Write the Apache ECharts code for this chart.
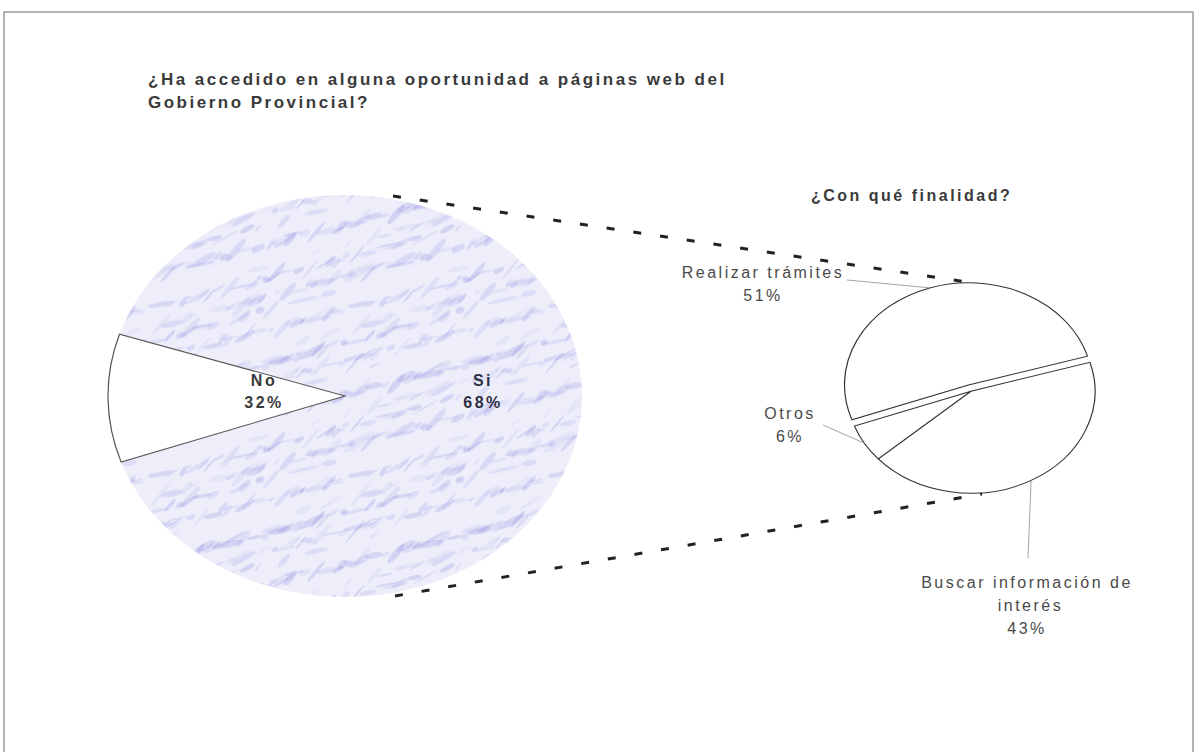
<!DOCTYPE html>
<html>
<head>
<meta charset="utf-8">
<script src="https://cdn.jsdelivr.net/npm/echarts@6/dist/echarts.min.js"></script>
<style>
html,body{margin:0;padding:0;background:#fff;}
#chart{width:1197px;height:752px;}
#chart svg text{letter-spacing:2.5px;}
</style>
</head>
<body>
<div id="chart"></div>
<script>
// ---------------- data ----------------
const titleMain = '¿Ha accedido en alguna oportunidad a páginas web del\nGobierno Provincial?';
const titleSub = '¿Con qué finalidad?';
const mainNames = ['No', 'Si'];
const mainPercent = [32, 68];            // printed percentages
const mainDrawnShare = [10.3, 89.7];     // share of the left pie each slice covers in the picture
const subNames = ['Realizar trámites', 'Buscar información de interés', 'Otros'];
const subPercent = [51, 43, 6];

// ---------------- layout ----------------
const MAIN = { cx: 345, cy: 396, rx: 237, ry: 201, startAngle: 199.2 };
const SUB = { cx: 971, cy: 391, rx: 124, ry: 102, startAngle: 200, explode: [8, 0, 0] };
const mainLabelPos = [[264, 391], [483, 391]];
const subLabelPos = [
  { x: 763, y: 284, lx: 847, ly: 280 },
  { x: 1027, y: 605, lx: 1028, ly: 558 },
  { x: 790, y: 425, lx: 823, ly: 425 }
];
const connectors = [[[393, 196], [980, 284]], [[395, 596], [982, 494]]];
const FONT = '"Liberation Sans", Arial, sans-serif';

function sliceAngles(values, startDeg) {
  const total = values.reduce((a, b) => a + b, 0);
  let a = startDeg;
  return values.map(v => { const s = a; a -= v / total * 360; return [s, a]; });
}
const mainAngles = sliceAngles(mainDrawnShare, MAIN.startAngle);
const subAngles = sliceAngles(subPercent, SUB.startAngle);

// decorative marbled fill (deterministic pattern, not data)
function makeTexture() {
  const S = 200;
  const c = document.createElement('canvas');
  c.width = S; c.height = S;
  const g = c.getContext('2d');
  g.fillStyle = '#eeeefa';
  g.fillRect(0, 0, S, S);
  for (let i = 0; i < 170; i++) {
    const x = (i * 47 + (i % 7) * 9) % S, y = (i * 71 + (i % 5) * 13) % S;
    const len = 4 + (i * 7) % 13, w = 1.2 + (i * 3) % 4 * 0.8;
    const alpha = 0.10 + ((i * 11) % 7) * 0.03;
    g.fillStyle = 'rgba(145,145,228,' + alpha.toFixed(3) + ')';
    for (const dx of [-S, 0, S]) for (const dy of [-S, 0, S]) {
      g.save();
      g.translate(x + dx, y + dy);
      g.rotate(-0.6 + ((i % 3) - 1) * 0.35);
      g.beginPath();
      g.ellipse(0, 0, len, w, 0, 0, Math.PI * 2);
      g.fill();
      g.restore();
    }
  }
  return c;
}
const texture = { image: makeTexture(), repeat: 'repeat' };

function ellipsePoint(P, deg) {
  const r = deg * Math.PI / 180;
  return [P.cx + Math.cos(r) * P.rx, P.cy - Math.sin(r) * P.ry];
}

function renderMain(params, api) {
  const i = params.dataIndex;
  const [a0, a1] = mainAngles[i];
  const k = MAIN.ry / MAIN.rx;
  const isNo = i === 0;
  return {
    type: 'group',
    children: [
      {
        type: 'sector',
        shape: { cx: MAIN.cx, cy: MAIN.cy, r: MAIN.rx, r0: 0,
          startAngle: -a0 * Math.PI / 180, endAngle: -a1 * Math.PI / 180, clockwise: true },
        scaleY: k, originX: MAIN.cx, originY: MAIN.cy,
        style: isNo
          ? { fill: '#ffffff', stroke: '#555555', lineWidth: 1.2, strokeNoScale: true }
          : { fill: texture, stroke: null },
        z2: isNo ? 2 : 1
      },
      {
        type: 'text',
        z2: 5,
        style: {
          text: mainNames[i] + '\n' + mainPercent[i] + '%',
          x: mainLabelPos[i][0], y: mainLabelPos[i][1],
          align: 'center', verticalAlign: 'middle', lineHeight: 22,
          fontSize: 16, fontWeight: 'bold', fontFamily: FONT,
          fill: isNo ? '#3a3a3a' : '#2e2e44'
        }
      }
    ]
  };
}

function renderSub(params, api) {
  const i = params.dataIndex;
  const [a0, a1] = subAngles[i];
  const k = SUB.ry / SUB.rx;
  const mid = (a0 + a1) / 2 * Math.PI / 180;
  const e = SUB.explode[i];
  const ox = Math.cos(mid) * e, oy = -Math.sin(mid) * e * k;
  const edge = ellipsePoint(SUB, (a0 + a1) / 2);
  const lp = subLabelPos[i];
  return {
    type: 'group',
    children: [
      {
        type: 'sector',
        shape: { cx: SUB.cx, cy: SUB.cy, r: SUB.rx, r0: 0,
          startAngle: -a0 * Math.PI / 180, endAngle: -a1 * Math.PI / 180, clockwise: true },
        scaleY: k, originX: SUB.cx, originY: SUB.cy,
        x: ox, y: oy,
        style: { fill: '#ffffff', stroke: '#333333', lineWidth: 1.2, strokeNoScale: true }
      },
      {
        type: 'polyline',
        shape: { points: [[lp.lx, lp.ly], [edge[0] + ox, edge[1] + oy]] },
        style: { stroke: '#8a8a8a', lineWidth: 0.8, fill: null }
      },
      {
        type: 'text',
        style: {
          text: subNames[i] + '\n' + subPercent[i] + '%',
          x: lp.x, y: lp.y, width: 170, overflow: 'break',
          align: 'center', verticalAlign: 'middle', lineHeight: 23,
          fontSize: 16, fontFamily: FONT, fill: '#4a4a4a'
        }
      }
    ]
  };
}

const chart = echarts.init(document.getElementById('chart'), null, { renderer: 'svg' });
chart.setOption({
  backgroundColor: '#ffffff',
  animation: false,
  title: [
    { text: titleMain, left: 143, top: 63,
      textStyle: { fontSize: 17, fontWeight: 'bold', color: '#3a3a3a', fontFamily: FONT, lineHeight: 23 } },
    { text: titleSub, left: 806, top: 182,
      textStyle: { fontSize: 16, fontWeight: 'bold', color: '#3a3a3a', fontFamily: FONT } }
  ],
  graphic: [
    { type: 'rect', shape: { x: 4, y: 12, width: 1189, height: 760 },
      style: { fill: null, stroke: '#9a9a9a', lineWidth: 1.5 }, z: 0 },
    ...connectors.map(c => ({
      type: 'line', z: 10,
      shape: { x1: c[0][0], y1: c[0][1], x2: c[1][0], y2: c[1][1] },
      style: { stroke: '#222222', lineWidth: 3, lineDash: [8, 19] }
    }))
  ],
  series: [
    { type: 'custom', coordinateSystem: 'none', renderItem: renderMain,
      data: mainDrawnShare.map((v, i) => ({ name: mainNames[i], value: v })) },
    { type: 'custom', coordinateSystem: 'none', renderItem: renderSub,
      data: subPercent.map((v, i) => ({ name: subNames[i], value: v })) }
  ]
});
</script>
</body>
</html>
